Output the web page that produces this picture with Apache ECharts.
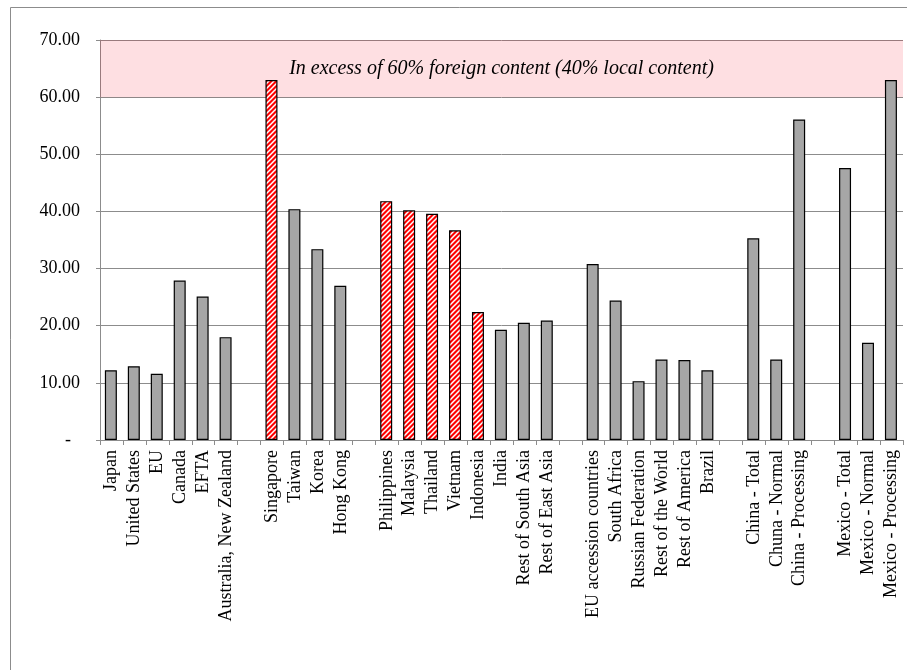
<!DOCTYPE html>
<html>
<head>
<meta charset="utf-8">
<style>
  html, body { margin: 0; padding: 0; background: #fff; }
  #chart { width: 907px; height: 670px; }
</style>
<script src="https://cdn.jsdelivr.net/npm/echarts@6/dist/echarts.min.js"></script>
</head>
<body>
<div id="chart"></div>
<script>
// Foreign content share by economy (%), blank slots separate the groups
const categories = [
  'Japan', 'United States', 'EU', 'Canada', 'EFTA', 'Australia, New Zealand', '',
  'Singapore', 'Taiwan', 'Korea', 'Hong Kong', '',
  'Philippines', 'Malaysia', 'Thailand', 'Vietnam', 'Indonesia', 'India', 'Rest of South Asia', 'Rest of East Asia', '',
  'EU accession countries', 'South Africa', 'Russian Federation', 'Rest of the World', 'Rest of America', 'Brazil', '',
  'China - Total', 'Chuna - Normal', 'China - Processing', '',
  'Mexico - Total', 'Mexico - Normal', 'Mexico - Processing'
];
const values = [
  12.2, 12.9, 11.6, 27.9, 25.1, 18.0, null,
  63.0, 40.4, 33.4, 27.0, null,
  41.8, 40.2, 39.6, 36.7, 22.4, 19.3, 20.5, 20.9, null,
  30.8, 24.4, 10.3, 14.1, 14.0, 12.2, null,
  35.3, 14.1, 56.1, null,
  47.6, 17.0, 63.0
];
// Economies drawn with the hatched red fill
const hatched = ['Singapore', 'Philippines', 'Malaysia', 'Thailand', 'Vietnam', 'Indonesia'];
// Threshold band
const bandFrom = 60;
const bandTo = 70;
const bandLabel = 'In excess of 60% foreign content (40% local content)';
const yMin = 0, yMax = 70, yStep = 10;

// Red / white diagonal hatch tile
function makeHatch() {
  const s = 5;
  const c = document.createElement('canvas');
  c.width = s; c.height = s;
  const ctx = c.getContext('2d');
  ctx.fillStyle = '#ff0000';
  ctx.fillRect(0, 0, s, s);
  ctx.strokeStyle = '#ffffff';
  ctx.lineWidth = 1.5;
  ctx.beginPath();
  ctx.moveTo(-1, s + 1); ctx.lineTo(s + 1, -1);
  ctx.moveTo(-1, 1); ctx.lineTo(1, -1);
  ctx.moveTo(s - 1, s + 1); ctx.lineTo(s + 1, s - 1);
  ctx.stroke();
  return c;
}
const hatchFill = { image: makeHatch(), repeat: 'repeat' };

const FONT = 'Liberation Serif';

const barData = values.map((v, i) => {
  if (v == null) return '-';
  const isHatched = hatched.indexOf(categories[i]) >= 0;
  return {
    value: v,
    itemStyle: { color: isHatched ? hatchFill : '#a6a6a6' }
  };
});

const chart = echarts.init(document.getElementById('chart'), null, { renderer: 'canvas' });
chart.setOption({
  animation: false,
  backgroundColor: '#ffffff',
  textStyle: { fontFamily: FONT, color: '#000' },
  grid: { left: 100, right: 4, top: 40, bottom: 230, containLabel: false },
  graphic: [{
    type: 'rect',
    shape: { x: 10.5, y: 7.5, width: 920, height: 700 },
    style: { fill: null, stroke: '#8c8c8c', lineWidth: 1 },
    silent: true
  }],
  xAxis: {
    type: 'category',
    data: categories,
    boundaryGap: true,
    axisLine: { show: true, lineStyle: { color: '#8c8c8c', width: 1 } },
    axisTick: { show: true, interval: 0, length: 5, lineStyle: { color: '#8c8c8c' } },
    axisLabel: {
      interval: 0, rotate: 90, margin: 10,
      fontFamily: FONT, fontSize: 18, color: '#000'
    },
    splitLine: { show: false }
  },
  yAxis: {
    type: 'value',
    min: yMin, max: yMax, interval: yStep,
    axisLine: { show: true, lineStyle: { color: '#8c8c8c', width: 1 } },
    axisTick: { show: true, length: 4, lineStyle: { color: '#8c8c8c' } },
    axisLabel: {
      margin: 20, fontFamily: FONT, fontSize: 18, color: '#000',
      formatter: v => v === 0 ? '-\u00a0\u00a0' : v.toFixed(2)
    },
    splitLine: { show: true, lineStyle: { color: '#8c8c8c', width: 1 } }
  },
  series: [
    {
      type: 'bar',
      data: barData,
      barWidth: 12,
      itemStyle: { borderColor: '#000', borderWidth: 1.2 },
      z: 2
    },
    {
      type: 'bar',
      data: [],
      z: 5,
      markArea: {
        silent: true,
        itemStyle: { color: 'rgba(250, 0, 20, 0.125)' },
        label: {
          show: true, position: 'inside',
          fontFamily: FONT, fontStyle: 'italic', fontSize: 20, color: '#000'
        },
        data: [[{ yAxis: bandFrom, name: bandLabel }, { yAxis: bandTo }]]
      }
    }
  ]
});
</script>
</body>
</html>
